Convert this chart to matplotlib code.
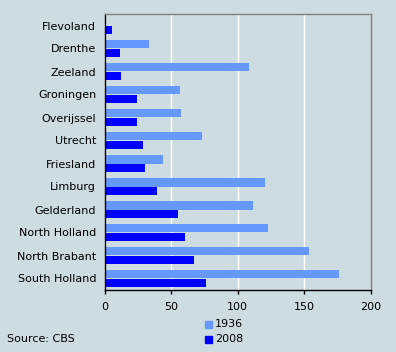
import numpy as np
import matplotlib
matplotlib.use("Agg")
import matplotlib.pyplot as plt
from matplotlib.patches import Rectangle

provinces = ["Flevoland", "Drenthe", "Zeeland", "Groningen", "Overijssel", "Utrecht",
             "Friesland", "Limburg", "Gelderland", "North Holland", "North Brabant", "South Holland"]
v1936 = [0, 33.5, 108.6, 56.8, 57.5, 73.3, 44, 120.7, 111.7, 122.9, 153.8, 176.3]
v2008 = [5.6, 11.6, 12.4, 24.4, 24.4, 28.9, 30.4, 39.5, 55.3, 60.5, 67.3, 76.3]
xticks = [0, 50, 100, 150, 200]

bg = "#cddce1"
c1936 = "#6699ff"
c2008 = "#0000ff"
fs = 8

plt.rcParams["font.family"] = ["DejaVu Sans"]
fig = plt.figure(figsize=(3.96, 3.52), dpi=100, facecolor=bg)
ax = fig.add_axes([104.5 / 396, 1 - 290 / 352, 266 / 396, 276 / 352])
ax.set_facecolor(bg)

y = np.arange(len(provinces))
h = 0.35
ax.barh(y - h / 2, v1936, height=h, color=c1936, zorder=3)
ax.barh(y + h / 2, v2008, height=h, color=c2008, zorder=3)

ax.set_ylim(len(provinces) - 0.5, -0.5)
ax.set_xlim(0, 200)
ax.set_xticks(xticks)
ax.set_yticks(y)
ax.set_yticklabels(provinces)
ax.tick_params(axis="y", length=0, pad=6, labelsize=fs)
ax.tick_params(axis="x", length=3, width=1, pad=6, labelsize=fs)
ax.grid(axis="x", color="white", linewidth=1, zorder=1)
ax.spines["left"].set_color("black")
ax.spines["bottom"].set_color("black")
ax.spines["top"].set_color("#808080")
ax.spines["right"].set_color("#808080")
for s in ax.spines.values():
    s.set_linewidth(1)
    s.set_zorder(4)

# legend
for i, (lab, col) in enumerate([("1936", c1936), ("2008", c2008)]):
    yy = 1 - (324 + 15 * i) / 352
    fig.patches.append(Rectangle((205 / 396, yy - 3.5 / 352), 7 / 396, 7 / 352,
                                 transform=fig.transFigure, color=col))
    fig.text(215 / 396, yy, lab, fontsize=fs, va="center", ha="left")

fig.text(7 / 396, 1 - 339 / 352, "Source: CBS", fontsize=fs, va="center", ha="left")

fig.savefig("out.png", dpi=100, facecolor=bg)
